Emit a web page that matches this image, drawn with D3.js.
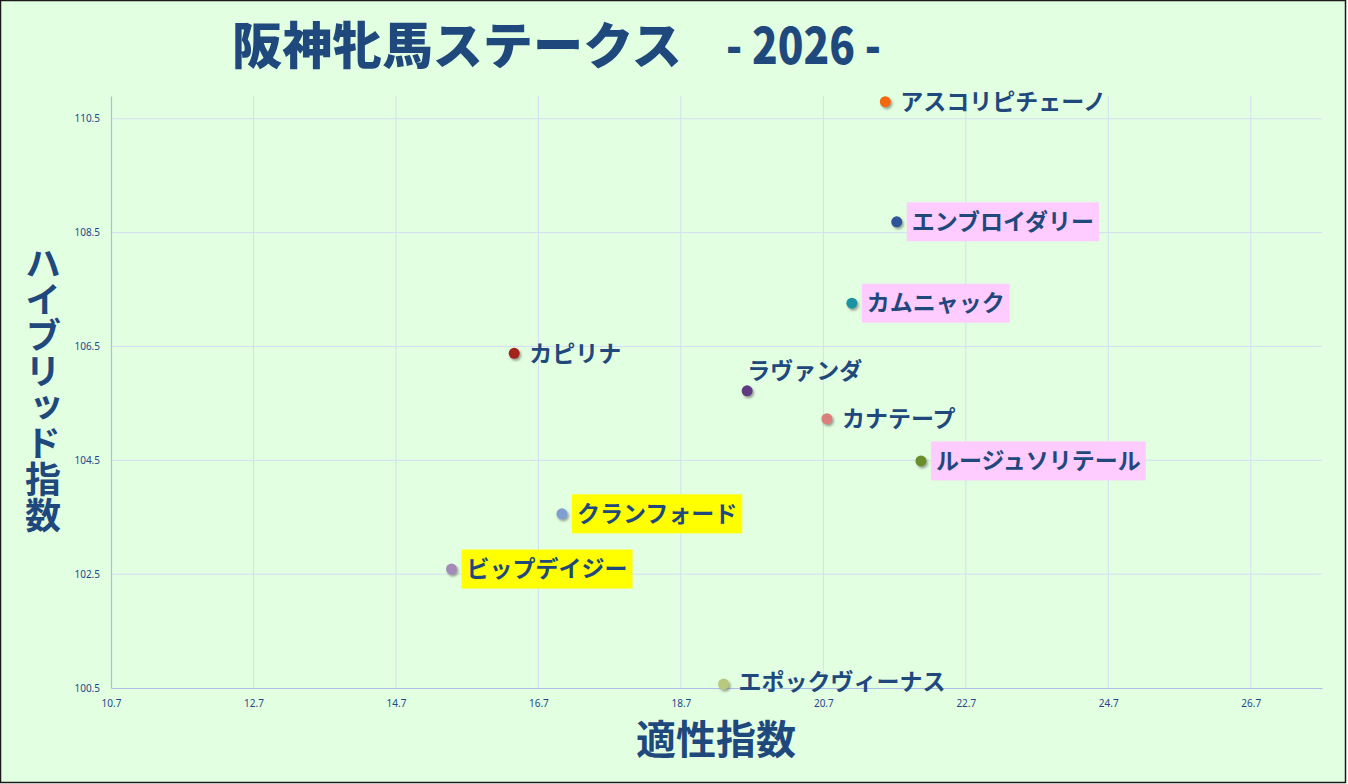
<!DOCTYPE html>
<html>
<head>
<meta charset="utf-8">
<title>阪神牝馬ステークス - 2026 -</title>
<script src="https://cdn.jsdelivr.net/npm/d3@7/dist/d3.min.js"></script>
<style>
    body { margin: 0; background: #ffffff; }
    text { font-family: "Noto Sans CJK JP", "Noto Sans", sans-serif; }
</style>
</head>
<body>
<script>
//horse names
var horses = ["アスコリピチェーノ", "エンブロイダリー", "カムニャック", "カピリナ", "ラヴァンダ",
    "カナテープ", "ルージュソリテール", "クランフォード", "ビップデイジー", "エポックヴィーナス"];
//適性指数 (x values)
var tekisei = [21.57, 21.73, 21.10, 16.36, 19.63, 20.75, 22.07, 17.03, 15.48, 19.30];
//ハイブリッド指数 (y values)
var hybrid = [110.80, 108.69, 107.26, 106.38, 105.72, 105.23, 104.49, 103.56, 102.59, 100.57];
//tick labels
var xTicks = [10.7, 12.7, 14.7, 16.7, 18.7, 20.7, 22.7, 24.7, 26.7];
var yTicks = [100.5, 102.5, 104.5, 106.5, 108.5, 110.5];

window.onload = function(){
    var w = 1348, h = 784;
    var navy = "#1f497d";

    //point colours and label highlights (style only)
    var dotColors = ["#f26a0a", "#2f5597", "#1f93a3", "#a3201e", "#5e3a82",
        "#da7f7c", "#6b8f2c", "#7f9fd0", "#a48ab9", "#b7c97f"];
    var pinkSet = ["エンブロイダリー", "カムニャック", "ルージュソリテール"];
    var yellowSet = ["クランフォード", "ビップデイジー"];

    var svg = d3.select("body")
        .append("svg")
        .attr("width", w)
        .attr("height", h);

    //drop shadow for the markers
    var defs = svg.append("defs");
    defs.append("filter")
        .attr("id", "shadow")
        .attr("x", "-50%").attr("y", "-50%")
        .attr("width", "200%").attr("height", "200%")
        .append("feDropShadow")
        .attr("dx", 1.5).attr("dy", 2)
        .attr("stdDeviation", 1.2)
        .attr("flood-color", "#555")
        .attr("flood-opacity", 0.55);

    //background with dark frame
    svg.append("rect")
        .attr("x", 0.5).attr("y", 0.5)
        .attr("width", w - 3).attr("height", h - 2)
        .style("fill", "#e3ffe1")
        .style("stroke", "#1a1a1a")
        .style("stroke-width", 1.5);

    //scales
    var x = d3.scaleLinear()
        .domain([10.7, 27.7])
        .range([111, 1322]);
    var y = d3.scaleLinear()
        .domain([100.5, 110.9])
        .range([688, 96]);

    //gridlines
    svg.append("g").selectAll("line")
        .data(yTicks.slice(1))
        .enter()
        .append("line")
        .attr("x1", x(10.7)).attr("x2", x(27.7))
        .attr("y1", function(d){ return y(d); })
        .attr("y2", function(d){ return y(d); })
        .style("stroke", "#d3def3")
        .style("stroke-width", 1);
    svg.append("g").selectAll("line")
        .data(xTicks.slice(1))
        .enter()
        .append("line")
        .attr("y1", y(100.5)).attr("y2", y(110.9))
        .attr("x1", function(d){ return x(d); })
        .attr("x2", function(d){ return x(d); })
        .style("stroke", "#d3def3")
        .style("stroke-width", 1);

    //axes
    var xAxis = d3.axisBottom(x)
        .tickValues(xTicks)
        .tickSize(0)
        .tickPadding(12)
        .tickFormat(d3.format(".1f"));
    var yAxis = d3.axisLeft(y)
        .tickValues(yTicks)
        .tickSize(0)
        .tickPadding(11)
        .tickFormat(d3.format(".1f"));

    var gx = svg.append("g")
        .attr("transform", "translate(0," + y(100.5) + ")")
        .call(xAxis);
    var gy = svg.append("g")
        .attr("transform", "translate(" + x(10.7) + ",0)")
        .call(yAxis);

    [gx, gy].forEach(function(g){
        g.select(".domain").style("stroke", "#a9bde6").style("stroke-width", 1.2);
        g.selectAll("text")
            .style("font-family", "'Noto Sans', sans-serif")
            .style("font-size", "10px")
            .style("fill", "#25468a");
    });

    //points
    var idx = d3.range(horses.length);

    svg.append("g").selectAll("circle")
        .data(idx)
        .enter()
        .append("circle")
        .attr("cx", function(i){ return x(tekisei[i]); })
        .attr("cy", function(i){ return y(hybrid[i]); })
        .attr("r", 5.5)
        .attr("filter", "url(#shadow)")
        .style("fill", function(i){ return dotColors[i]; });

    //labels
    var labels = svg.append("g").selectAll("g")
        .data(idx)
        .enter()
        .append("g");

    labels.each(function(i){
        var g = d3.select(this);
        var cx = x(tekisei[i]), cy = y(hybrid[i]);
        var above = horses[i] === "ラヴァンダ";
        var tx = above ? cx : cx + 15;
        var ty = above ? cy - 20 : cy;
        //the bottom label sits a touch higher so it clears the tick labels
        if (hybrid[i] < 101) ty -= 2;

        var bg = null;
        if (pinkSet.indexOf(horses[i]) >= 0) bg = "#ffccff";
        if (yellowSet.indexOf(horses[i]) >= 0) bg = "#ffff00";

        var rect = g.append("rect");
        var t = g.append("text")
            .attr("x", tx)
            .attr("y", ty)
            .attr("dy", "0.36em")
            .style("font-size", "23px")
            .style("font-weight", 700)
            .style("fill", navy)
            .text(horses[i]);

        if (bg) {
            var bb = t.node().getBBox();
            rect.attr("x", bb.x - 5)
                .attr("y", ty - 19.5)
                .attr("width", bb.width + 10)
                .attr("height", 39)
                .style("fill", bg);
        } else {
            rect.remove();
        }
    });

    //title, the year part squeezed like a condensed face
    var title = svg.append("text")
        .attr("y", 64)
        .style("font-size", "50px")
        .style("font-weight", 900)
        .style("fill", navy);
    title.append("tspan")
        .attr("x", 232)
        .attr("textLength", 450)
        .attr("lengthAdjust", "spacingAndGlyphs")
        .text("阪神牝馬ステークス");
    title.append("tspan")
        .attr("x", 726)
        .attr("textLength", 155)
        .attr("lengthAdjust", "spacingAndGlyphs")
        .text("- 2026 -");

    //x axis title
    svg.append("text")
        .attr("x", 716)
        .attr("y", 740)
        .attr("dy", "0.36em")
        .attr("text-anchor", "middle")
        .style("font-size", "40px")
        .style("font-weight", 700)
        .style("fill", navy)
        .text("適性指数");

    //y axis title, written vertically
    svg.append("text")
        .attr("x", 43)
        .attr("y", 245)
        .style("writing-mode", "vertical-rl")
        .style("text-orientation", "upright")
        .style("font-size", "36px")
        .style("font-weight", 700)
        .style("fill", navy)
        .text("ハイブリッド指数");
};
</script>
</body>
</html>
